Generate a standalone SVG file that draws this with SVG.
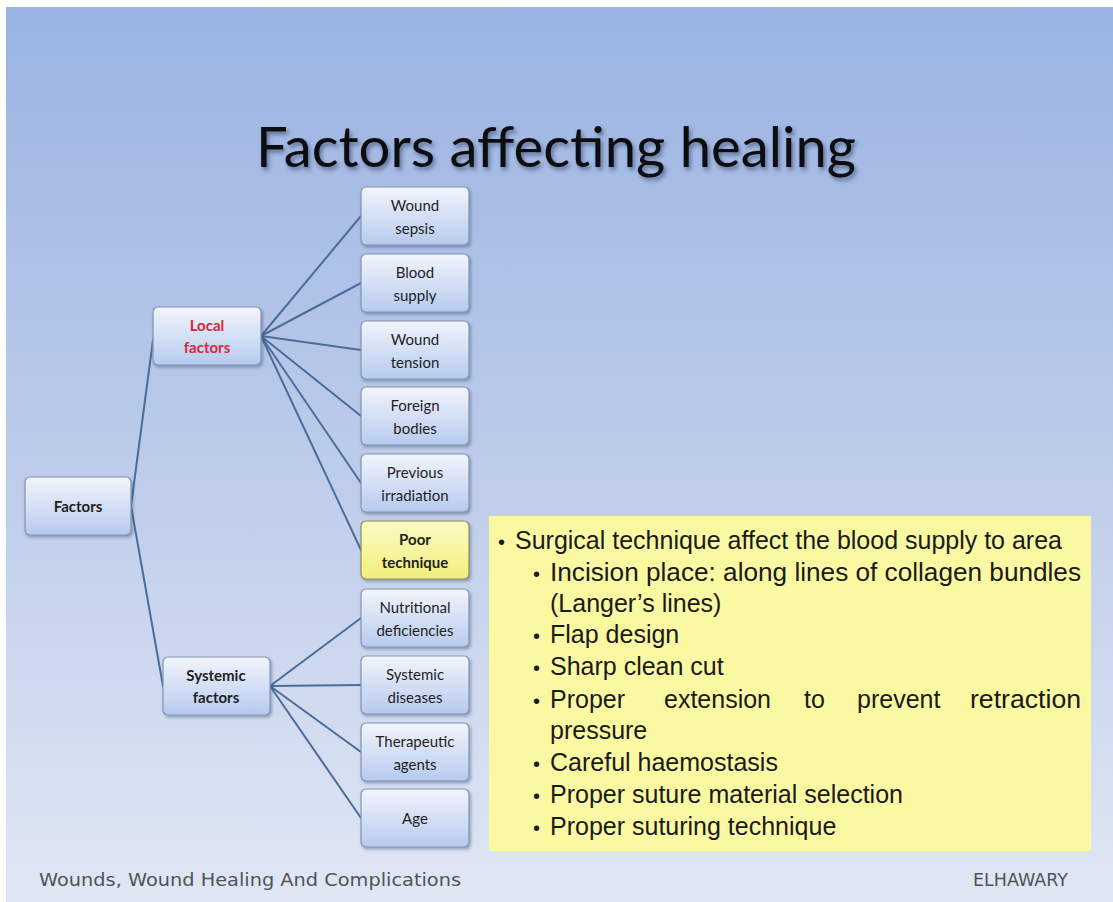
<svg xmlns="http://www.w3.org/2000/svg" width="1113" height="902" viewBox="0 0 1113 902">
<defs>
<linearGradient id="bg" x1="0" y1="0" x2="0" y2="1">
<stop offset="0" stop-color="#9ab3e2"/>
<stop offset="0.5" stop-color="#bccbea"/>
<stop offset="1" stop-color="#e0e7f4"/>
</linearGradient>
<linearGradient id="nodeFill" x1="0" y1="0" x2="0" y2="1">
<stop offset="0" stop-color="#f2f5fc"/>
<stop offset="1" stop-color="#b6caee"/>
</linearGradient>
<linearGradient id="yelFill" x1="0" y1="0" x2="0" y2="1">
<stop offset="0" stop-color="#fbfbc4"/>
<stop offset="1" stop-color="#f3ef7c"/>
</linearGradient>
<filter id="sh" x="-10%" y="-10%" width="130%" height="130%">
<feDropShadow dx="1.5" dy="2" stdDeviation="1.5" flood-color="#3a4d6e" flood-opacity="0.45"/>
</filter>
<filter id="tsh" x="-5%" y="-10%" width="110%" height="130%">
<feDropShadow dx="2" dy="3" stdDeviation="2" flood-color="#223355" flood-opacity="0.55"/>
</filter>
</defs>
<style>
.node rect{fill:url(#nodeFill);stroke:#8394b3;stroke-width:1.2;filter:url(#sh)}
.node.hl rect{fill:url(#yelFill);stroke:#8f8d62}
.node text{font-family:Lato,"Open Sans","Liberation Sans",sans-serif;font-size:15px;fill:#1f1f1f;text-anchor:middle}
.node text.b{font-weight:bold}
.node text.red{fill:#d8263c}
.conn line{stroke:#4b6d9a;stroke-width:2;stroke-linecap:round}
.bl{font-family:"Liberation Sans",Arial,sans-serif;font-size:25px;fill:#1a1a1a}
.foot{font-family:"DejaVu Sans",sans-serif;font-size:17px;fill:#4f5358}
</style>
<rect x="0" y="0" width="1113" height="902" fill="#ffffff"/>
<rect x="6" y="7" width="1107" height="895" fill="url(#bg)"/>

<text x="556" y="167" text-anchor="middle" font-family="Lato,'Liberation Sans',sans-serif" font-size="56" fill="#0b0b10" filter="url(#tsh)" textLength="600" lengthAdjust="spacingAndGlyphs">Factors affecting healing</text>

<g id="connectors" class="conn">
<line x1="131" y1="506" x2="153" y2="340"/>
<line x1="131" y1="506" x2="163" y2="686"/>
<line x1="261" y1="336" x2="361" y2="216"/>
<line x1="261" y1="336" x2="361" y2="283"/>
<line x1="261" y1="336" x2="361" y2="350"/>
<line x1="261" y1="336" x2="361" y2="416"/>
<line x1="261" y1="336" x2="361" y2="483"/>
<line x1="261" y1="336" x2="361" y2="550"/>
<line x1="270" y1="686" x2="361" y2="618"/>
<line x1="270" y1="686" x2="361" y2="685"/>
<line x1="270" y1="686" x2="361" y2="752"/>
<line x1="270" y1="686" x2="361" y2="818"/>
</g>

<g id="n-factors" class="node"><rect x="25" y="477" width="106" height="58" rx="5"/><text class="b" x="78" y="512">Factors</text></g>
<g id="n-local" class="node"><rect x="153" y="307" width="108" height="58" rx="5"/><text class="b red" x="207" y="331">Local</text><text class="b red" x="207" y="353">factors</text></g>
<g id="n-systemic" class="node"><rect x="163" y="657" width="107" height="58" rx="5"/><text class="b" x="216" y="681">Systemic</text><text class="b" x="216" y="703">factors</text></g>

<g id="n-sepsis" class="node"><rect x="361" y="187" width="108" height="58" rx="5"/><text x="415" y="211">Wound</text><text x="415" y="234">sepsis</text></g>
<g id="n-blood" class="node"><rect x="361" y="254" width="108" height="58" rx="5"/><text x="415" y="278">Blood</text><text x="415" y="301">supply</text></g>
<g id="n-tension" class="node"><rect x="361" y="321" width="108" height="58" rx="5"/><text x="415" y="345">Wound</text><text x="415" y="368">tension</text></g>
<g id="n-foreign" class="node"><rect x="361" y="387" width="108" height="58" rx="5"/><text x="415" y="411">Foreign</text><text x="415" y="434">bodies</text></g>
<g id="n-irradiation" class="node"><rect x="361" y="454" width="108" height="58" rx="5"/><text x="415" y="478">Previous</text><text x="415" y="501">irradiation</text></g>
<g id="n-poor" class="node hl"><rect x="361" y="521" width="108" height="58" rx="5"/><text class="b" x="415" y="545">Poor</text><text class="b" x="415" y="568">technique</text></g>
<g id="n-nutritional" class="node"><rect x="361" y="589" width="108" height="58" rx="5"/><text x="415" y="613">Nutritional</text><text x="415" y="636">deficiencies</text></g>
<g id="n-diseases" class="node"><rect x="361" y="656" width="108" height="58" rx="5"/><text x="415" y="680">Systemic</text><text x="415" y="703">diseases</text></g>
<g id="n-therapeutic" class="node"><rect x="361" y="723" width="108" height="58" rx="5"/><text x="415" y="747">Therapeutic</text><text x="415" y="770">agents</text></g>
<g id="n-age" class="node"><rect x="361" y="789" width="108" height="58" rx="5"/><text x="415" y="824">Age</text></g>

<g id="detail-box">
<rect x="489" y="516" width="602" height="335" fill="#fbf8a2"/>
<g class="bl">
<text x="498" y="549" font-size="20">•</text><text x="515" y="549" textLength="547" lengthAdjust="spacingAndGlyphs">Surgical technique affect the blood supply to area</text>
<text x="533" y="581" font-size="20">•</text><text x="550" y="581" textLength="531" lengthAdjust="spacingAndGlyphs">Incision place: along lines of collagen bundles</text>
<text x="550" y="612">(Langer’s lines)</text>
<text x="533" y="643" font-size="20">•</text><text x="550" y="643">Flap design</text>
<text x="533" y="675" font-size="20">•</text><text x="550" y="675">Sharp clean cut</text>
<text x="533" y="708" font-size="20">•</text>
<text x="550" y="708">Proper</text>
<text x="664" y="708">extension</text>
<text x="804" y="708">to</text>
<text x="857" y="708">prevent</text>
<text x="970" y="708" textLength="111" lengthAdjust="spacingAndGlyphs">retraction</text>
<text x="550" y="739">pressure</text>
<text x="533" y="771" font-size="20">•</text><text x="550" y="771">Careful haemostasis</text>
<text x="533" y="803" font-size="20">•</text><text x="550" y="803">Proper suture material selection</text>
<text x="533" y="835" font-size="20">•</text><text x="550" y="835">Proper suturing technique</text>
</g>
</g>

<text class="foot" x="39" y="886" textLength="422" lengthAdjust="spacingAndGlyphs">Wounds, Wound Healing And Complications</text>
<text class="foot" x="973" y="886" textLength="95" lengthAdjust="spacingAndGlyphs">ELHAWARY</text>
</svg>
